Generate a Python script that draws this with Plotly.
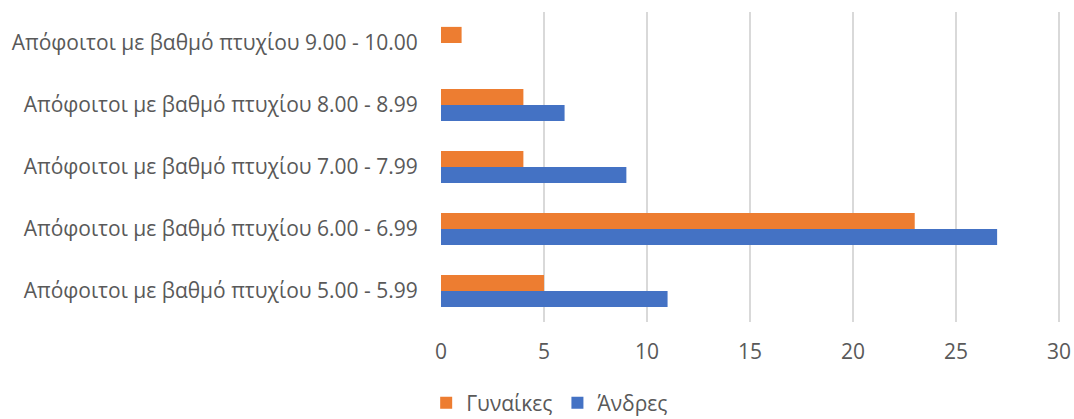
import plotly.graph_objects as go

categories = [
    "Απόφοιτοι με βαθμό πτυχίου 5.00 - 5.99",
    "Απόφοιτοι με βαθμό πτυχίου 6.00 - 6.99",
    "Απόφοιτοι με βαθμό πτυχίου 7.00 - 7.99",
    "Απόφοιτοι με βαθμό πτυχίου 8.00 - 8.99",
    "Απόφοιτοι με βαθμό πτυχίου 9.00 - 10.00",
]
women = [5, 23, 4, 4, 1]
men = [11, 27, 9, 6, 0]
x_ticks = [0, 5, 10, 15, 20, 25, 30]

font_family = "Open Sans"
text_color = "#595959"

fig = go.Figure()
fig.add_trace(go.Bar(y=categories, x=men, name="Άνδρες", orientation="h",
                     marker=dict(color="#4472C4", line=dict(width=0))))
fig.add_trace(go.Bar(y=categories, x=women, name="Γυναίκες", orientation="h",
                     marker=dict(color="#ED7D31", line=dict(width=0))))

fig.update_layout(
    width=1074, height=419,
    margin=dict(l=441, r=12, t=12, b=97, autoexpand=False),
    barmode="group", bargap=0.48, bargroupgap=0,
    plot_bgcolor="white", paper_bgcolor="white",
    font=dict(family=font_family, size=21, color=text_color),
    legend=dict(orientation="h", traceorder="reversed",
                x=0.175, xref="paper", xanchor="center",
                y=-0.262, yref="paper", yanchor="middle",
                font=dict(size=21, color=text_color)),
    xaxis=dict(range=[0, 30.15], tickvals=x_ticks, showgrid=True,
               gridcolor="#D9D9D9", gridwidth=1.5, zeroline=False,
               showline=False, ticks="outside", ticklen=0,
               ticklabelstandoff=11, fixedrange=True),
    yaxis=dict(showgrid=False, ticks="outside", ticklen=0,
               ticklabelstandoff=18, showline=False, fixedrange=True),
)

fig.write_html("out.html", config={"displayModeBar": False},
               post_script="document.body.style.margin='0';document.body.style.overflow='hidden';")
